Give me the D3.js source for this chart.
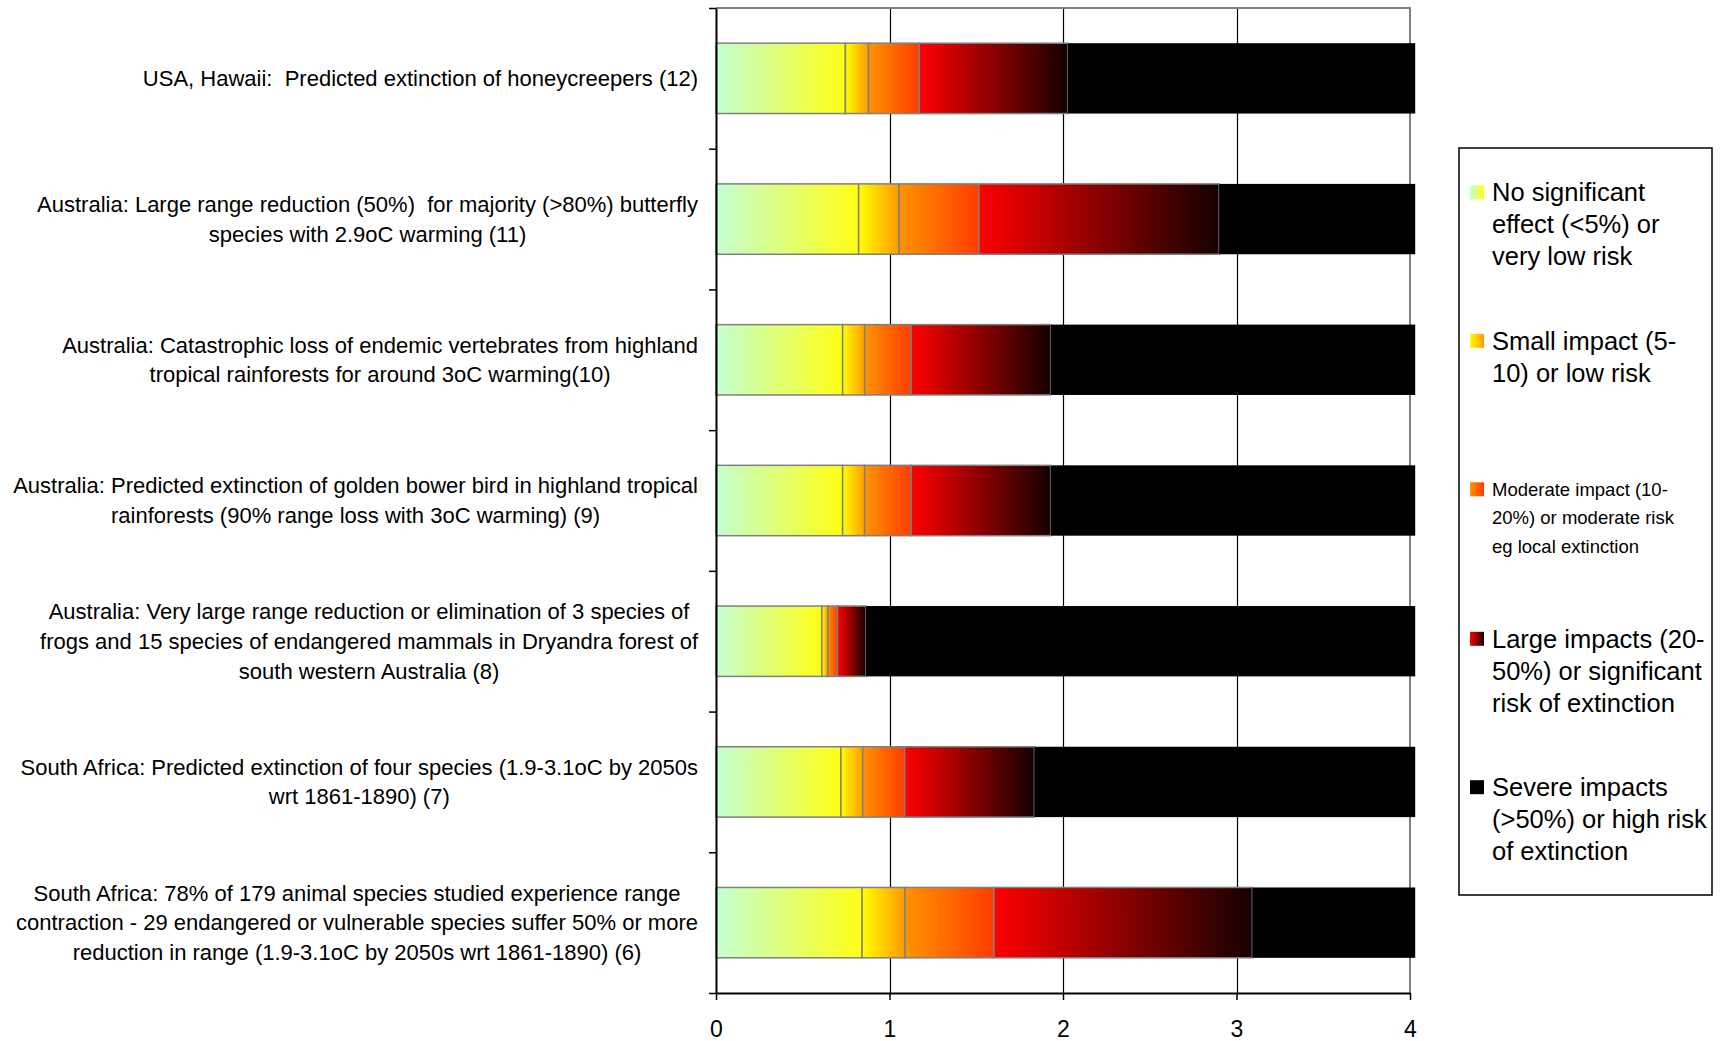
<!DOCTYPE html>
<html>
<head>
<meta charset="utf-8">
<script src="https://cdn.jsdelivr.net/npm/d3@7"></script>
<style>
  body { margin: 0; background: #fff; }
  svg { display: block; }
  text { font-family: "Liberation Sans", Arial, sans-serif; fill: #000; white-space: pre; }
</style>
</head>
<body>
<svg id="chart" width="1724" height="1041"></svg>
<script>
// Case studies, top to bottom, already broken into display lines
const categories = [
  ["USA, Hawaii:  Predicted extinction of honeycreepers (12)"],
  ["Australia: Large range reduction (50%)  for majority (>80%) butterfly", "species with 2.9oC warming (11)"],
  ["Australia: Catastrophic loss of endemic vertebrates from highland", "tropical rainforests for around 3oC warming(10)"],
  ["Australia: Predicted extinction of golden bower bird in highland tropical", "rainforests (90% range loss with 3oC warming) (9)"],
  ["Australia: Very large range reduction or elimination of 3 species of", "frogs and 15 species of endangered mammals in Dryandra forest of", "south western Australia (8)"],
  ["South Africa: Predicted extinction of four species (1.9-3.1oC by 2050s", "wrt 1861-1890) (7)"],
  ["South Africa: 78% of 179 animal species studied experience range", "contraction - 29 endangered or vulnerable species suffer 50% or more", "reduction in range (1.9-3.1oC by 2050s wrt 1861-1890) (6)"]
];

// Width of each impact band along the warming axis (°C)
const noEffect = [0.746, 0.822, 0.730, 0.730, 0.610, 0.720, 0.842];
const smallImpact = [0.133, 0.233, 0.127, 0.127, 0.035, 0.126, 0.247];
const moderateImpact = [0.292, 0.460, 0.267, 0.267, 0.055, 0.241, 0.513];
const largeImpact = [0.856, 1.385, 0.805, 0.805, 0.165, 0.748, 1.489];
const severeImpact = [2.003, 1.130, 2.101, 2.101, 3.165, 2.195, 0.939];

const xTicks = [0, 1, 2, 3, 4];

const seriesKeys = ["noEffect", "small", "moderate", "large", "severe"];
const legendLabels = [
  ["No significant", "effect (<5%) or", "very low risk"],
  ["Small impact (5-", "10) or low risk"],
  ["Moderate impact (10-", "20%) or moderate risk", "eg local extinction"],
  ["Large impacts (20-", "50%) or significant", "risk of extinction"],
  ["Severe impacts", "(>50%) or high risk", "of extinction"]
];

// Colour ramps for each band (left -> right)
const ramps = {
  noEffect: ["#c4ffd2", "#ffff14"],
  small: ["#ffff00", "#ff9a00"],
  moderate: ["#ff9400", "#ff3c00"],
  large: ["#ff0000", "#140000"],
  severe: ["#000000", "#000000"]
};

const rows = categories.map((lines, i) => ({
  id: i,
  lines,
  noEffect: noEffect[i],
  small: smallImpact[i],
  moderate: moderateImpact[i],
  large: largeImpact[i],
  severe: severeImpact[i]
}));

const svg = d3.select("#chart");
const plot = { left: 716, right: 1410, top: 8, bottom: 993 };

const x = d3.scaleLinear().domain([0, 4]).range([plot.left, plot.right]);
const y = d3.scaleBand()
  .domain(rows.map(d => d.id))
  .range([plot.top, plot.bottom])
  .paddingInner(0.5)
  .paddingOuter(0.25);

// gradients
const defs = svg.append("defs");
seriesKeys.forEach(k => {
  const g = defs.append("linearGradient")
    .attr("id", "grad-" + k)
    .attr("x1", "0%").attr("x2", "100%").attr("y1", "0%").attr("y2", "0%");
  g.append("stop").attr("offset", "0%").attr("stop-color", ramps[k][0]);
  g.append("stop").attr("offset", "100%").attr("stop-color", ramps[k][1]);
});

// vertical gridlines
svg.append("g")
  .selectAll("line")
  .data([1, 2, 3])
  .join("line")
  .attr("x1", d => Math.round(x(d)) + 0.5).attr("x2", d => Math.round(x(d)) + 0.5)
  .attr("y1", plot.top).attr("y2", plot.bottom)
  .attr("stroke", "#000").attr("stroke-width", 1.2);

// grey frame on top and right
svg.append("path")
  .attr("d", `M${plot.left},${plot.top}H${plot.right}V${plot.bottom}`)
  .attr("fill", "none").attr("stroke", "#808080").attr("stroke-width", 2);

// stacked bars
const stacked = d3.stack().keys(seriesKeys)(rows);
const barG = svg.append("g");
stacked.forEach(layer => {
  const k = layer.key;
  barG.append("g")
    .selectAll("rect")
    .data(layer)
    .join("rect")
    .attr("x", d => x(d[0]))
    .attr("width", d => x(d[1]) - x(d[0]))
    .attr("y", d => y(d.data.id))
    .attr("height", y.bandwidth())
    .attr("fill", `url(#grad-${k})`)
    .attr("stroke", k === "severe" ? "none" : "#808080")
    .attr("stroke-width", 1.5);
});

// left axis with ticks at category boundaries
const yEdges = d3.scaleLinear().domain([0, rows.length]).range([plot.top, plot.bottom]);
svg.append("g")
  .attr("transform", `translate(${plot.left},0)`)
  .call(d3.axisLeft(yEdges).ticks(rows.length).tickFormat("").tickSize(7).tickSizeOuter(0))
  .call(g => g.select(".domain").attr("stroke", "#000").attr("stroke-width", 2))
  .call(g => g.selectAll(".tick line").attr("stroke", "#000").attr("stroke-width", 1.5));

// bottom axis
svg.append("g")
  .attr("transform", `translate(0,${plot.bottom})`)
  .call(d3.axisBottom(x).tickValues(xTicks).tickFormat(d3.format("d")).tickSize(7).tickSizeOuter(0))
  .call(g => g.select(".domain").attr("stroke", "#000").attr("stroke-width", 2))
  .call(g => g.selectAll(".tick line").attr("stroke", "#000").attr("stroke-width", 1.5))
  .call(g => g.selectAll(".tick text")
    .attr("y", 44).attr("dy", 0)
    .style("font-size", "23px")
    .style("font-family", '"Liberation Sans", Arial, sans-serif')
    .attr("fill", "#000"));

// category labels: lines centred within a block that is right-aligned to the axis
const labelRight = 698;
const labelLine = 29.7;
const labelG = svg.append("g").style("font-size", "22px");
rows.forEach(r => {
  const t = labelG.append("text").attr("text-anchor", "middle");
  const n = r.lines.length;
  const cy = y(r.id) + y.bandwidth() / 2;
  const spans = r.lines.map((ln, j) =>
    t.append("tspan")
      .attr("y", cy + (j - (n - 1) / 2) * labelLine)
      .attr("dy", "0.35em")
      .text(ln));
  const w = d3.max(spans, s => s.node().getComputedTextLength());
  spans.forEach(s => s.attr("x", labelRight - w / 2));
});

// legend
const legend = { x: 1459, y: 148, w: 253, h: 747 };
svg.append("rect")
  .attr("x", legend.x).attr("y", legend.y)
  .attr("width", legend.w).attr("height", legend.h)
  .attr("fill", "#fff").attr("stroke", "#000").attr("stroke-width", 1.5);

const legendFirstLine = [192.4, 340.8, 489.3, 638.8, 787.2];
const legendFont = [25.5, 25.5, 18.5, 25.5, 25.5];
const legendStep = [32, 32, 28.6, 32, 32];
const lg = svg.append("g");
seriesKeys.forEach((k, i) => {
  const cy = legendFirstLine[i];
  lg.append("rect")
    .attr("x", 1470).attr("y", cy - 7)
    .attr("width", 14).attr("height", 14)
    .attr("fill", `url(#grad-${k})`);
  const t = lg.append("text").style("font-size", legendFont[i] + "px");
  legendLabels[i].forEach((ln, j) => {
    t.append("tspan")
      .attr("x", 1492)
      .attr("y", cy + j * legendStep[i])
      .attr("dy", "0.35em")
      .text(ln);
  });
});
</script>
</body>
</html>
